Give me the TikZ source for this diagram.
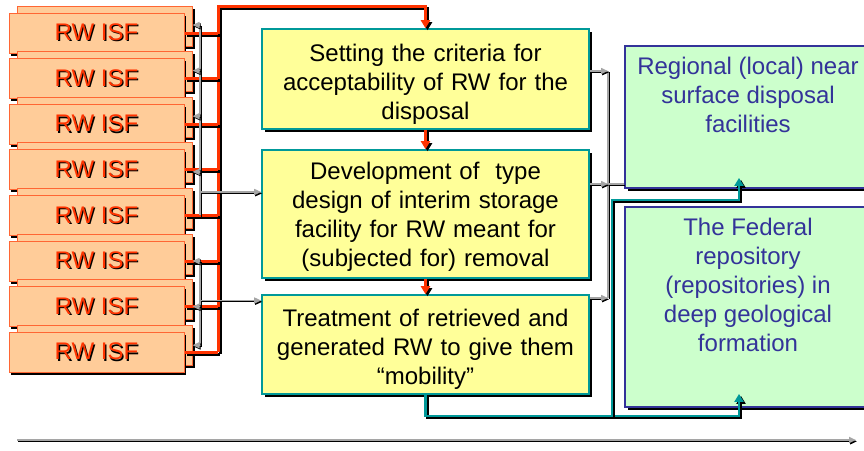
\documentclass[tikz,border=0pt]{standalone}
\usepackage{fontspec}
\setmainfont{Liberation Sans}
\usetikzlibrary{arrows.meta,shadows}
\definecolor{isffill}{RGB}{255,204,153}
\definecolor{isfline}{RGB}{255,102,51}
\definecolor{isfred}{RGB}{255,51,0}
\definecolor{stepfill}{RGB}{255,255,153}
\definecolor{stepline}{RGB}{0,153,153}
\definecolor{repfill}{RGB}{204,255,204}
\definecolor{repline}{RGB}{51,51,153}
\definecolor{wiregrey}{RGB}{165,165,165}
\newcommand{\shadowtext}[1]{\rlap{\kern1.3pt\raisebox{-1.3pt}{\color{black}#1}}#1}
% a wire is drawn twice: black shade first, then the coloured line
\newcommand{\wire}[3][]{\draw[#2 shade,#1] #3; \draw[#2,#1] #3;}
\tikzset{
  isf/.style={draw=isfline,fill=isffill,line width=1pt,minimum width=175pt,minimum height=40pt,
              inner sep=0pt,text=isfred,
              general shadow={fill=black,opacity=1,shadow xshift=10.5pt,shadow yshift=4.5pt},
              general shadow={draw=isfline,fill=isffill,opacity=1,line width=1pt,shadow xshift=8pt,shadow yshift=7pt},
              general shadow={fill=black,opacity=1,shadow xshift=2pt,shadow yshift=-2.5pt}},
  stepbox/.style={draw=stepline,fill=stepfill,line width=1.6pt,minimum width=327pt,inner sep=0pt,
                  text width=325pt,align=center,
                  general shadow={fill=black,opacity=1,shadow xshift=3pt,shadow yshift=-3pt}},
  repbox/.style={draw=repline,fill=repfill,line width=1.8pt,minimum width=246pt,inner sep=0pt,
                 general shadow={fill=black,opacity=1,shadow xshift=3pt,shadow yshift=-3pt}},
  reptext/.style={anchor=north,inner sep=0pt,align=center,text=repline},
  redwire/.style={draw=isfred,line width=3pt},
  redwire shade/.style={redwire,draw=black,transform canvas={xshift=2pt,yshift=-2pt}},
  greywire/.style={draw=wiregrey,line width=1.5pt},
  greywire shade/.style={greywire,draw=black,line width=1pt,transform canvas={xshift=1pt,yshift=-1.3pt}},
  tealwire/.style={draw=stepline,line width=2.5pt},
  tealwire shade/.style={tealwire,draw=black,transform canvas={xshift=2pt,yshift=-2pt}},
  tip/.style={-{Triangle[length=8pt,width=9pt]}},
  smalltip/.style={-{Triangle[length=7pt,width=6pt]}},
}
\begin{document}
\begin{tikzpicture}[x=1pt,y=-1pt,font=\fontsize{24}{29}\selectfont]
\useasboundingbox (0,0) rectangle (864,450);
% interim storage facilities
\node[isf] (isf1) at (96.5,33)    {\shadowtext{RW ISF}};
\node[isf] (isf2) at (96.5,78.6)  {\shadowtext{RW ISF}};
\node[isf] (isf3) at (96.5,124.2) {\shadowtext{RW ISF}};
\node[isf] (isf4) at (96.5,169.8) {\shadowtext{RW ISF}};
\node[isf] (isf5) at (96.5,215.4) {\shadowtext{RW ISF}};
\node[isf] (isf6) at (96.5,261)   {\shadowtext{RW ISF}};
\node[isf] (isf7) at (96.5,306.6) {\shadowtext{RW ISF}};
\node[isf] (isf8) at (96.5,352.2) {\shadowtext{RW ISF}};
% work steps
\node[stepbox,minimum height=100pt] (criteria) at (425.5,79)
 {\rule{0pt}{27pt}Setting the criteria for\\acceptability of RW for the\\disposal};
\node[stepbox,minimum height=128pt] (design) at (425.5,214)
 {\rule{0pt}{22pt}Development of\ \ type\\design of interim storage\\facility for RW meant for\\(subjected for) removal};
\node[stepbox,minimum height=99pt] (treatment) at (425.5,344.5)
 {\rule{0pt}{26pt}Treatment of retrieved and\\generated RW to give them\\“mobility”};
% disposal facilities
\node[repbox,minimum height=142pt] (regional) at (748,117) {};
\node[reptext] (regionaltxt) at ([yshift=-12pt]regional.north)
 {Regional (local) near\\surface disposal\\facilities};
\node[repbox,minimum height=200pt] (federal) at (748,307) {};
\node[reptext] (federaltxt) at ([yshift=-12pt]federal.north)
 {The Federal\\repository\\(repositories) in\\deep geological\\formation};
% red bus
\coordinate (bustop) at (218,6);
\coordinate (busbot) at (218,352);
\wire[tip]{redwire}{(busbot) -- (bustop) -| (criteria.north)}
\wire{redwire}{(isf1.east) -- (isf1.east -| bustop)}
\wire{redwire}{(isf2.east) -- (isf2.east -| bustop)}
\wire{redwire}{(isf3.east) -- (isf3.east -| bustop)}
\wire{redwire}{(isf4.east) -- (isf4.east -| bustop)}
\wire{redwire}{(isf5.east) -- (isf5.east -| bustop)}
\wire{redwire}{(isf6.east) -- (isf6.east -| bustop)}
\wire{redwire}{(isf7.east) -- (isf7.east -| bustop)}
\wire{redwire}{(isf8.east) -- (isf8.east -| bustop)}
\wire[tip]{redwire}{(criteria.south) -- (design.north)}
\wire[tip]{redwire}{(design.south) -- (treatment.north)}
% grey links on the left
\coordinate (gbus) at (200,0);
\coordinate (back1) at ([xshift=8pt,yshift=8pt]isf1.east);
\coordinate (back2) at ([xshift=8pt,yshift=8pt]isf2.east);
\coordinate (back3) at ([xshift=8pt,yshift=8pt]isf3.east);
\coordinate (back4) at ([xshift=8pt,yshift=-2pt]isf4.east);
\coordinate (back6) at ([xshift=8pt]isf6.east);
\coordinate (back7) at ([xshift=8pt]isf7.east);
\coordinate (back8) at ([xshift=8pt,yshift=7pt]isf8.east);
\coordinate (designin) at ([yshift=22pt]design.west);
\coordinate (treatin) at ([yshift=44pt]treatment.west);
\wire{greywire}{(back1 -| gbus) -- (isf5.east -| gbus)}
\wire{greywire}{(back6 -| gbus) -- (back8 -| gbus)}
\wire[smalltip]{greywire}{(back1 -| gbus) -- (back1)}
\wire[smalltip]{greywire}{(back2 -| gbus) -- (back2)}
\wire[smalltip]{greywire}{(back3 -| gbus) -- (back3)}
\wire[smalltip]{greywire}{(back4 -| gbus) -- (back4)}
\wire[smalltip]{greywire}{(back6 -| gbus) -- (back6)}
\wire[smalltip]{greywire}{(back7 -| gbus) -- (back7)}
\wire[smalltip]{greywire}{(back8 -| gbus) -- (back8)}
\wire[smalltip]{greywire}{(designin -| gbus) -- (designin)}
\wire[smalltip]{greywire}{(treatin -| gbus) -- (treatin)}
% grey links on the right
\coordinate (gbusr) at (608,0);
\coordinate (criteriaout) at ([yshift=8pt]criteria.east);
\coordinate (designout) at ([yshift=30pt]design.east);
\coordinate (treatout) at ([yshift=46.5pt]treatment.east);
\wire{greywire}{(criteriaout -| gbusr) -- (treatout -| gbusr)}
\wire{greywire}{(designout -| gbusr) -- (designout -| regional.west)}
\wire[smalltip]{greywire}{(criteriaout) -- (criteriaout -| gbusr)}
\wire[smalltip]{greywire}{(designout) -- (designout -| gbusr)}
\wire[smalltip]{greywire}{(treatout) -- (treatout -| gbusr)}
% teal links to disposal
\coordinate (tealjoin) at (612,415.5);
\wire[tip]{tealwire}{(treatment.south) -- ++(0,21) -| ([xshift=-9pt,yshift=14pt]federal.south)}
\wire[tip]{tealwire}{(tealjoin) -- ++(0,-215.5) -| ([xshift=-9pt,yshift=11pt]regional.south)}
% time axis
\coordinate (timestart) at (17,440);
\coordinate (timeend) at (856,440);
\wire[smalltip,line width=2pt]{greywire}{(timestart) -- (timeend)}
\end{tikzpicture}
\end{document}
